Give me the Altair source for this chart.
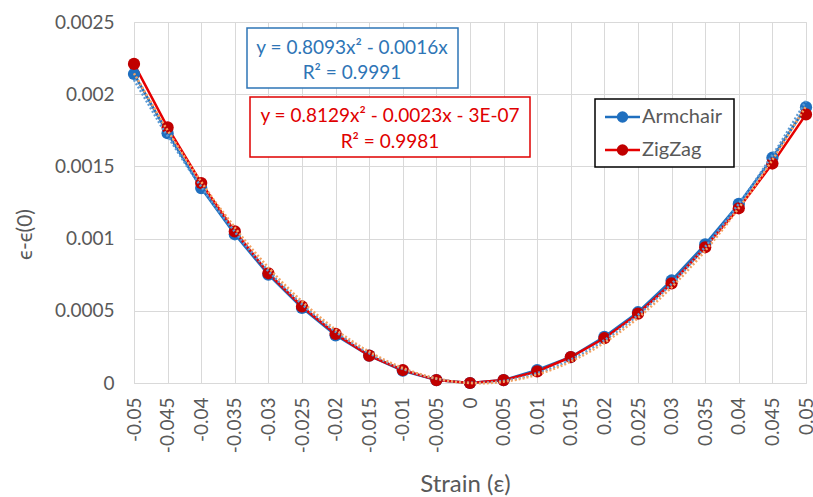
import altair as alt
import pandas as pd

strain = [-0.05, -0.045, -0.04, -0.035, -0.03, -0.025, -0.02, -0.015, -0.01, -0.005,
          0.0, 0.005, 0.01, 0.015, 0.02, 0.025, 0.03, 0.035, 0.04, 0.045, 0.05]
armchair = [0.00214, 0.00173, 0.00135, 0.00103, 0.00075, 0.00052, 0.00033, 0.00019, 0.000085, 0.00002,
            0.0, 0.00002, 0.00009, 0.00018, 0.00032, 0.00049, 0.00071, 0.00096, 0.00124, 0.00156, 0.00191]
zigzag = [0.00221, 0.00177, 0.001385, 0.00105, 0.00076, 0.00053, 0.00034, 0.00019, 0.00009, 0.00002,
          0.0, 0.00002, 0.00008, 0.00018, 0.00031, 0.00048, 0.00069, 0.00094, 0.00121, 0.00152, 0.00186]
series_names = ["Armchair", "ZigZag"]
y_ticks = [0.0, 0.0005, 0.001, 0.0015, 0.002, 0.0025]
eq_blue = ["y = 0.8093x² - 0.0016x", "R² = 0.9991"]
eq_red = ["y = 0.8129x² - 0.0023x - 3E-07", "R² = 0.9981"]

BLUE = "#1f6fbf"
RED_LINE = "#e60000"
RED_MARK = "#c00000"
FONT = "Lato"
GREY = "#595959"

df = pd.DataFrame({
    "strain": strain * 2,
    "value": armchair + zigzag,
    "series": [series_names[0]] * len(strain) + [series_names[1]] * len(strain),
})

W, H = 672, 361

xenc = alt.X("strain:Q",
             scale=alt.Scale(domain=[-0.05, 0.05], nice=False, zero=False),
             axis=alt.Axis(values=strain, tickCount=len(strain) + 5,
                           labelExpr="datum.value + ''", labelAngle=-90,
                           labelPadding=14, ticks=False, domainColor="#d9d9d9",
                           gridColor="#d9d9d9", labelFontSize=19, labelColor=GREY,
                           labelFont=FONT, title="Strain (ε)", titleFontSize=24,
                           titleColor=GREY, titleFont=FONT, titleFontWeight="normal",
                           titleX=W / 2 - 5, titleY=108, titleBaseline="alphabetic",
                           labelOverlap=False, labelBound=False))
yenc = alt.Y("value:Q",
             scale=alt.Scale(domain=[0, 0.0025], nice=False),
             axis=alt.Axis(values=y_ticks, tickCount=10, labelExpr="datum.value + ''", ticks=False,
                           domain=False, gridColor="#d9d9d9", labelPadding=20,
                           labelFontSize=19, labelColor=GREY, labelFont=FONT,
                           title="ϵ-ϵ(0)", titleFontSize=21, titleColor=GREY,
                           titleFont=FONT, titleFontWeight="normal",
                           titleX=-103, titleY=212, titleAngle=-90,
                           titleBaseline="alphabetic", titleAlign="center"))

color_scale = alt.Scale(domain=series_names, range=[BLUE, RED_LINE])
mark_scale = alt.Scale(domain=series_names, range=[BLUE, RED_MARK])

base = alt.Chart(df)

lines = base.mark_line(strokeWidth=2.5).encode(
    x=xenc, y=yenc,
    stroke=alt.Stroke("series:N", scale=color_scale, legend=None),
)

points = base.mark_point(filled=True, size=150, opacity=1).encode(
    x="strain:Q", y="value:Q",
    fill=alt.Fill("series:N", scale=mark_scale, legend=None),
)

trend_blue = base.transform_filter(alt.datum.series == series_names[0]).transform_regression(
    "strain", "value", method="poly", order=2, extent=[-0.05, 0.05]
).mark_line(strokeWidth=2.5, strokeDash=[2, 2], color="#5b9bd5").encode(x="strain:Q", y="value:Q")

trend_red = base.transform_filter(alt.datum.series == series_names[1]).transform_regression(
    "strain", "value", method="poly", order=2, extent=[-0.05, 0.05]
).mark_line(strokeWidth=2.5, strokeDash=[2, 2], color="#f4a261").encode(x="strain:Q", y="value:Q")

ann = alt.Chart(pd.DataFrame({"a": [0]}))
box_blue = ann.mark_rect(fill="white", stroke="#2e75b6", strokeWidth=1.5).encode(
    x=alt.value(113), x2=alt.value(324), y=alt.value(6), y2=alt.value(66))
box_red = ann.mark_rect(fill="white", stroke="#e00000", strokeWidth=1.5).encode(
    x=alt.value(116), x2=alt.value(396), y=alt.value(75), y2=alt.value(135))

def txt(s, x, y, color, align="center", size=19):
    return ann.mark_text(text=s, font=FONT, fontSize=size, color=color, align=align,
                         baseline="middle").encode(x=alt.value(x), y=alt.value(y))

texts = (txt(eq_blue[0], 218, 26, "#2e75b6") + txt(eq_blue[1], 218, 51, "#2e75b6") +
         txt(eq_red[0], 256, 94, "#e00000") + txt(eq_red[1], 256, 120, "#e00000"))

# legend
leg_box = ann.mark_rect(fill="white", stroke="black", strokeWidth=1.5).encode(
    x=alt.value(461), x2=alt.value(600), y=alt.value(77), y2=alt.value(145))
leg_layers = [leg_box]
for name, lc, mc, yy in [(series_names[0], BLUE, BLUE, 95), (series_names[1], RED_LINE, RED_MARK, 128)]:
    leg_layers.append(ann.mark_rule(color=lc, strokeWidth=2.5).encode(
        x=alt.value(471), x2=alt.value(506), y=alt.value(yy)))
    leg_layers.append(ann.mark_point(filled=True, size=130, color=mc, opacity=1).encode(
        x=alt.value(488.5), y=alt.value(yy)))
    leg_layers.append(txt(name, 508, yy, GREY, align="left", size=20))

chart = alt.layer(lines, points, trend_blue, trend_red, box_blue, box_red, texts, *leg_layers).properties(
    width=W, height=H,
    padding={"left": 134, "top": 22, "right": 7, "bottom": 114},
    autosize=alt.AutoSizeParams(type="none"),
).configure_view(stroke=None).configure(background="white")

chart.save("out.html", embed_options={"renderer": "svg", "actions": False})
